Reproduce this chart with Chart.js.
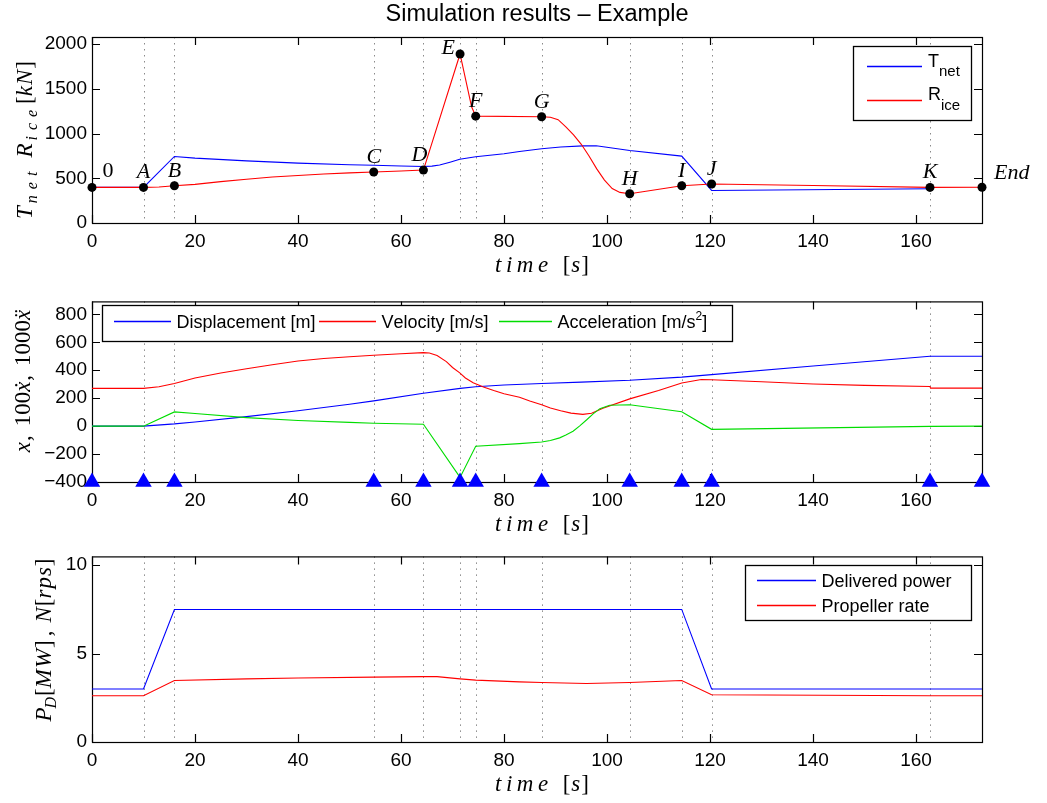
<!DOCTYPE html>
<html><head><meta charset="utf-8">
<script src="https://cdn.jsdelivr.net/npm/chart.js@4/dist/chart.umd.min.js"></script>
<style>
html,body{margin:0;padding:0;background:#fff;}
body{width:1047px;height:803px;overflow:hidden;position:relative;}
canvas{position:absolute;left:0;}
</style></head><body>
<canvas id="c1" width="1047" height="285" style="top:0px"></canvas>
<canvas id="c2" width="1047" height="255" style="top:285px"></canvas>
<canvas id="c3" width="1047" height="263" style="top:540px"></canvas>
<script>
// ---------------- DATA ----------------
const eventTimes  = [0, 10, 16, 54.7, 64.35, 71.46, 74.5, 87.3, 104.4, 114.5, 120.3, 162.7, 172.8];
const eventNames  = ['0','A','B','C','D','E','F','G','H','I','J','K','End'];
const eventRice   = [398, 398, 417, 570, 592, 1890, 1195, 1188, 327, 417, 436, 398, 400];
const markerLevel = [-400,-400,-400,-400,-400,-400,-400,-400,-400,-400,-400,-400,-400];

const xTicks = [0, 20, 40, 60, 80, 100, 120, 140, 160];
const xMax = 172.8;

// top plot
const riceTime  = [0, 10, 13, 16, 20, 25, 30, 35, 40, 45, 50, 54.7, 60, 64.35, 71.46, 73.7, 74.5, 87.3, 89, 90.5, 92, 93.5, 95, 96.5, 98, 99.5, 101, 102.5, 104.4, 114.5, 120.3, 140, 162.7, 172.8];
const riceValue = [398, 398, 403, 417, 432, 463, 490, 515, 532, 548, 560, 570, 582, 592, 1890, 1300, 1195, 1188, 1183, 1155, 1075, 985, 880, 750, 605, 480, 385, 342, 327, 417, 436, 420, 398, 400];
const tnetTime  = [0, 10, 16, 20, 30, 40, 50, 54.7, 60, 64.35, 66, 67.5, 69.5, 71.4, 74.5, 80, 83, 87.3, 91, 95.3, 97.9, 104.4, 114.5, 120.3, 162.7];
const tnetValue = [398, 398, 744, 726, 695, 670, 652, 646, 638, 632, 636, 648, 680, 712, 740, 775, 800, 830, 850, 863, 863, 811, 748, 364, 383];
const yTicksTop = [0, 500, 1000, 1500, 2000];

// middle plot
const dispTime  = [0, 10, 16, 20, 30, 40, 50, 54.7, 64.35, 71.5, 74.5, 80, 87.3, 95, 104.4, 114.5, 120.3, 140, 162.7, 172.8];
const dispValue = [0, 0, 16, 30, 68, 110, 157, 181, 235, 270, 282, 295, 305, 315, 328, 351, 369, 430, 500, 500];
const velTime   = [0, 10, 13, 16, 20, 25, 30, 35, 40, 45, 50, 54.7, 60, 64.35, 65.5, 67, 68.8, 70, 71.4, 72.5, 74, 76, 78, 80, 83, 85, 87.3, 89, 91, 93, 95.3, 97, 99.2, 104.4, 110, 114.5, 118.3, 120.3, 130, 140, 150, 162.7, 162.8, 172.8];
const velValue  = [270, 270, 282, 305, 345, 380, 411, 440, 466, 484, 497, 507, 518, 526, 524, 505, 462, 420, 381, 345, 311, 280, 255, 232, 207, 180, 153, 130, 110, 93, 84, 92, 128, 195, 255, 309, 334, 332, 318, 302, 292, 284, 272, 272];
const accTime   = [0, 10, 16, 20, 30, 40, 50, 54.7, 64.35, 71.46, 74.5, 83, 87.3, 89, 90.8, 92, 93.4, 94.7, 96, 97.3, 98.6, 100.5, 104.4, 114.5, 120.3, 162.7, 172.8];
const accValue  = [0, 0, 102, 90, 61, 40, 27, 21, 14, -367, -144, -125, -114, -103, -84, -63, -37, 2, 44, 88, 125, 149, 153, 103, -23, -2, 0];
const yTicksMid = [-400, -200, 0, 200, 400, 600, 800];

// bottom plot
const powTime   = [0, 10, 16, 114.5, 120.3, 172.8];
const powValue  = [3.0, 3.0, 7.5, 7.5, 3.0, 3.0];
const rateTime  = [0, 10, 16, 30, 40, 54.7, 64.35, 67, 71.46, 74.5, 83, 87.3, 96, 104.4, 114.5, 120.3, 162.7, 172.8];
const rateValue = [2.62, 2.62, 3.48, 3.57, 3.62, 3.67, 3.70, 3.70, 3.57, 3.50, 3.40, 3.37, 3.31, 3.37, 3.48, 2.67, 2.62, 2.62];
const yTicksBot = [0, 5, 10];

// ---------------- STYLE ----------------
const SANS  = '"Liberation Sans", Arial, Helvetica, sans-serif';
const SERIF = '"Liberation Serif", "Times New Roman", serif';
const BLUE = '#0000ff', RED = '#ff0000', GREEN = '#00dd00';
const LEGFONT = '18px ' + SANS;
const IT = s => 'italic ' + s + 'px ' + SERIF;
const UP = s => s + 'px ' + SERIF;

function pts(t, v) { return t.map((x, i) => ({x: x, y: v[i]})); }
function line(t, v, color, order) {
  return {data: pts(t, v), showLine: true, borderColor: color, backgroundColor: color,
          borderWidth: 1.1, pointRadius: 0, pointHoverRadius: 0, tension: 0, order: order};
}
function fmt(v) { return v < 0 ? '\u2212' + Math.abs(v) : String(v); }

// rich text: parts [{s, font, dy, ls, gap}]
function drawRich(ctx, parts, x, y, rotate, align) {
  ctx.save();
  ctx.translate(x, y);
  if (rotate) ctx.rotate(-Math.PI / 2);
  const items = []; let w = 0;
  for (const p of parts) {
    ctx.font = p.font;
    w += (p.gap || 0);
    for (const ch of Array.from(p.s)) {
      const cw = ctx.measureText(ch).width;
      items.push({ch: ch, font: p.font, dx: w, dy: p.dy || 0});
      w += cw + (p.ls || 0);
    }
  }
  const start = align === 'left' ? 0 : (align === 'right' ? -w : -w / 2);
  ctx.textAlign = 'left'; ctx.textBaseline = 'alphabetic'; ctx.fillStyle = '#000';
  for (const it of items) { ctx.font = it.font; ctx.fillText(it.ch, start + it.dx, it.dy); }
  ctx.restore();
}

// frame + inward ticks + dotted event lines
const framePlugin = {
  id: 'frame',
  beforeDatasetsDraw(chart, args, opts) {
    const ctx = chart.ctx, a = chart.chartArea, xs = chart.scales.x, ys = chart.scales.y;
    ctx.save();
    ctx.strokeStyle = '#8a8a8a'; ctx.lineWidth = 1; ctx.setLineDash([1.5, 4.5]);
    for (let i = 1; i < eventTimes.length - 1; i++) {
      const px = Math.round(xs.getPixelForValue(eventTimes[i])) + 0.5;
      ctx.beginPath(); ctx.moveTo(px, a.top); ctx.lineTo(px, a.bottom); ctx.stroke();
    }
    ctx.setLineDash([]);
    ctx.strokeStyle = '#000'; ctx.lineWidth = 1.2;
    const L = 8;
    ctx.beginPath();
    for (const t of xTicks) {
      const px = Math.round(xs.getPixelForValue(t)) + 0.5;
      ctx.moveTo(px, a.bottom); ctx.lineTo(px, a.bottom - L);
      ctx.moveTo(px, a.top); ctx.lineTo(px, a.top + L);
    }
    for (const t of opts.yTicks) {
      const py = Math.round(ys.getPixelForValue(t)) + 0.5;
      ctx.moveTo(a.left, py); ctx.lineTo(a.left + L, py);
      ctx.moveTo(a.right, py); ctx.lineTo(a.right - L, py);
    }
    ctx.stroke();
    ctx.strokeRect(a.left + 0.5, a.top + 0.5, a.right - a.left, a.bottom - a.top);
    ctx.restore();
  },
  afterDraw(chart, args, opts) {
    const ctx = chart.ctx, a = chart.chartArea;
    drawRich(ctx, [
      {s: 'time', font: IT(23), ls: 4.5},
      {s: '[', font: UP(23), gap: 10, ls: 1},
      {s: 's', font: IT(23), ls: 1},
      {s: ']', font: UP(23)}
    ], (a.left + a.right) / 2 + 5, a.bottom + 48.5, false, 'center');
    drawRich(ctx, opts.ylabel, opts.ylabelX, opts.ylabelY, true, 'center');
    const lg = opts.legend;
    ctx.save();
    ctx.fillStyle = '#fff'; ctx.fillRect(lg.box[0], lg.box[1], lg.box[2] - lg.box[0], lg.box[3] - lg.box[1]);
    ctx.strokeStyle = '#000'; ctx.lineWidth = 1.3;
    ctx.strokeRect(lg.box[0], lg.box[1], lg.box[2] - lg.box[0], lg.box[3] - lg.box[1]);
    for (const it of lg.items) {
      ctx.save();
      ctx.strokeStyle = it.color; ctx.lineWidth = 1.3;
      ctx.beginPath(); ctx.moveTo(it.x1, it.y); ctx.lineTo(it.x2, it.y); ctx.stroke();
      ctx.restore();
      drawRich(ctx, it.text, it.tx, it.ty, false, 'left');
    }
    ctx.restore();
    if (opts.title) {
      ctx.save();
      ctx.font = '23.5px ' + SANS; ctx.fillStyle = '#000'; ctx.textAlign = 'center'; ctx.textBaseline = 'alphabetic';
      ctx.fillText(opts.title, (a.left + a.right) / 2, 21);
      ctx.restore();
    }
    if (opts.pointLabels) {
      const xs = chart.scales.x, ys = chart.scales.y;
      ctx.save();
      ctx.fillStyle = '#000'; ctx.textBaseline = 'alphabetic';
      for (let i = 0; i < eventNames.length; i++) {
        const px = xs.getPixelForValue(eventTimes[i]), py = ys.getPixelForValue(eventRice[i]);
        const pl = opts.pointLabels[eventNames[i]] || {dx: 0, dy: -9, align: 'center'};
        ctx.font = pl.upright ? UP(22) : IT(22);
        ctx.textAlign = pl.align;
        ctx.fillText(eventNames[i], px + pl.dx, py + pl.dy);
      }
      ctx.restore();
    }
  }
};

function makeChart(id, cfg) {
  return new Chart(document.getElementById(id), {
    type: 'scatter',
    data: {datasets: cfg.datasets},
    options: {
      responsive: false, animation: false, devicePixelRatio: 1,
      events: [],
      layout: {padding: {left: 0, right: 65, top: cfg.padTop, bottom: 0}},
      plugins: {legend: {display: false}, tooltip: {enabled: false}, frame: cfg.frame},
      scales: {
        x: {type: 'linear', min: 0, max: xMax,
            afterFit(s) { s.height = cfg.xAxisH; },
            afterBuildTicks(s) { s.ticks = xTicks.map(v => ({value: v})); },
            grid: {display: false, drawTicks: false}, border: {display: false},
            ticks: {padding: 7, color: '#000', font: {family: SANS, size: 19}, maxRotation: 0, autoSkip: false,
                    callback: v => fmt(v)}},
        y: {type: 'linear', min: cfg.yMin, max: cfg.yMax,
            afterFit(s) { s.width = 92; },
            afterBuildTicks(s) { s.ticks = cfg.frame.yTicks.map(v => ({value: v})); },
            grid: {display: false, drawTicks: false}, border: {display: false},
            ticks: {padding: 5, color: '#000', font: {family: SANS, size: 19}, autoSkip: false,
                    callback: v => fmt(v)}}
      }
    },
    plugins: [framePlugin]
  });
}

// ---- chart 1 ----
makeChart('c1', {
  padTop: 37, xAxisH: 62, yMin: 0, yMax: 2080,
  datasets: [
    {data: pts(eventTimes, eventRice), showLine: false, pointRadius: 4.5, pointBackgroundColor: '#000',
     pointBorderColor: '#000', pointBorderWidth: 0, clip: false, order: 0},
    line(riceTime, riceValue, RED, 1),
    line(tnetTime, tnetValue, BLUE, 2)
  ],
  frame: {
    yTicks: yTicksTop,
    title: 'Simulation results \u2013 Example',
    ylabel: [
      {s: 'T', font: IT(23)},
      {s: 'net', font: IT(16), dy: 5, ls: 6, gap: 3},
      {s: 'R', font: IT(23), gap: 8},
      {s: 'ice', font: IT(16), dy: 5, ls: 6, gap: 3},
      {s: '[', font: UP(23), gap: 0},
      {s: 'kN', font: IT(23), ls: 1},
      {s: ']', font: UP(23)}
    ],
    ylabelX: 32, ylabelY: 140,
    legend: {
      box: [853.5, 46.5, 971.5, 120.5],
      items: [
        {color: BLUE, x1: 867, x2: 922, y: 66.5, tx: 928, ty: 66.5,
         text: [{s: 'T', font: LEGFONT}, {s: 'net', font: '15px ' + SANS, dy: 9.5}]},
        {color: RED, x1: 867, x2: 922, y: 100.5, tx: 928, ty: 100,
         text: [{s: 'R', font: LEGFONT}, {s: 'ice', font: '15px ' + SANS, dy: 9.5}]}
      ]
    },
    pointLabels: {
      '0': {dx: 16, dy: -10, align: 'center', upright: true},
      'D': {dx: -4, dy: -9, align: 'center'},
      'E': {dx: -5, dy: 0, align: 'right'},
      'End': {dx: 12, dy: -8, align: 'left'}
    }
  }
});

// ---- chart 2 ----
makeChart('c2', {
  padTop: 10, xAxisH: 58, yMin: -400, yMax: 893,
  datasets: [
    {data: pts(eventTimes, markerLevel), showLine: false, pointStyle: 'triangle', pointRadius: 9.5,
     pointBackgroundColor: BLUE, pointBorderColor: BLUE, pointBorderWidth: 0, clip: false, order: 0},
    line(dispTime, dispValue, BLUE, 3),
    line(velTime, velValue, RED, 2),
    line(accTime, accValue, GREEN, 1)
  ],
  frame: {
    yTicks: yTicksMid,
    ylabel: [
      {s: 'x', font: IT(23)},
      {s: ',', font: UP(23), gap: 1},
      {s: '100', font: UP(23), gap: 9},
      {s: '\u1E8B', font: IT(23)},
      {s: ',', font: UP(23), gap: 1},
      {s: '1000', font: UP(23), gap: 9},
      {s: '\u1E8D', font: IT(23)}
    ],
    ylabelX: 30, ylabelY: 96,
    legend: {
      box: [102.5, 20.5, 732.5, 56.5],
      items: [
        {color: BLUE, x1: 114, x2: 171, y: 36.5, tx: 176.5, ty: 43,
         text: [{s: 'Displacement [m]', font: LEGFONT}]},
        {color: RED, x1: 319, x2: 376, y: 36.5, tx: 381.5, ty: 43,
         text: [{s: 'Velocity [m/s]', font: LEGFONT}]},
        {color: GREEN, x1: 499, x2: 552, y: 36.5, tx: 557.5, ty: 43,
         text: [{s: 'Acceleration [m/s', font: LEGFONT}, {s: '2', font: '12px ' + SANS, dy: -8}, {s: ']', font: LEGFONT}]}
      ]
    }
  }
});

// ---- chart 3 ----
makeChart('c3', {
  padTop: 15, xAxisH: 61, yMin: 0, yMax: 10.5,
  datasets: [
    line(powTime, powValue, BLUE, 1),
    line(rateTime, rateValue, RED, 2)
  ],
  frame: {
    yTicks: yTicksBot,
    ylabel: [
      {s: 'P', font: IT(23)},
      {s: 'D', font: IT(16), dy: 5, gap: -1},
      {s: '[', font: UP(23), gap: 1},
      {s: 'MW', font: IT(23), ls: 1},
      {s: ']', font: UP(23)},
      {s: ',', font: UP(23), gap: 4},
      {s: 'N', font: IT(23), gap: 8},
      {s: '[', font: UP(23), gap: 1},
      {s: 'rps', font: IT(23), ls: 1},
      {s: ']', font: UP(23)}
    ],
    ylabelX: 51, ylabelY: 100,
    legend: {
      box: [745.5, 25.5, 971.5, 80.5],
      items: [
        {color: BLUE, x1: 757, x2: 816, y: 40.5, tx: 821.5, ty: 47,
         text: [{s: 'Delivered power', font: LEGFONT}]},
        {color: RED, x1: 757, x2: 816, y: 65.5, tx: 821.5, ty: 72,
         text: [{s: 'Propeller rate', font: LEGFONT}]}
      ]
    }
  }
});
</script>
</body></html>
